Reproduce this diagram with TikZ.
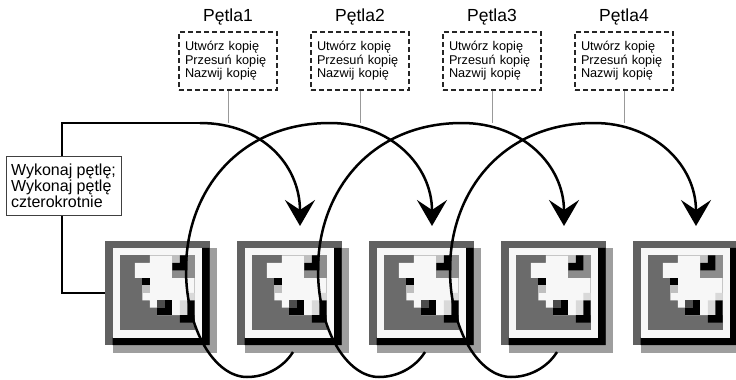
\documentclass[tikz,border=0pt]{standalone}
\usepackage{fontspec}
\setmainfont{Liberation Sans}
\usetikzlibrary{positioning,arrows.meta}
\tikzset{
	looptitle/.style={font=\fontsize{17.5}{21}\selectfont, inner sep=0pt},
	stepsbox/.style={draw=black!85, line width=1.1pt, dash pattern=on 5pt off 3pt,
		minimum width=98pt, minimum height=58pt, text width=86pt, inner xsep=6pt,
		inner ysep=0pt, align=left, font=\fontsize{12.7}{13.4}\selectfont},
	mainbox/.style={draw=black!75, fill=white, line width=.6pt, minimum width=115pt,
		minimum height=59pt, inner xsep=5pt, inner ysep=0pt, align=left,
		font=\fontsize{16}{16}\selectfont},
	iconspot/.style={minimum size=104.6pt, inner sep=0pt},
	loopline/.style={line width=2.5pt},
	looparrow/.style={loopline, -{Stealth[quick, length=26pt, width=30pt, inset=10pt]}},
	feeler/.style={black!40, line width=.9pt},
	loopicon/.pic={
		\fill[black!38] (1,1) rectangle (15,15);
		\fill[black!62] (0,0) rectangle (14,14);
		\fill[black] (1,13) rectangle (14,14) (13,1) rectangle (14,14);
		\fill[black!3] (1,1) rectangle (13,13);
		\fill[black!58] (2,2) rectangle (12,12);
		% white staircase
		\fill[black!3] (6,2) -- (6,3) -- (4,3) -- (4,5) -- (5,5) -- (5,8) -- (6,8) -- (6,9)
			-- (7,9) -- (7,10) -- (12,10) -- (12,2) -- cycle;
		% upper tile
		\fill[black!45] (9,2) rectangle (12,5);
		\fill[black!25] (9,2) rectangle (10,3);
		\fill[black] (9,3) rectangle (11,4) (10,2) rectangle (11,4);
		% small pieces on the stairs
		\fill[black] (5,5) rectangle (6,6);
		\fill[black!25] (5,6) rectangle (6,7);
		\fill[black] (7,8) rectangle (9,10);
		\fill[black!70] (7,8) rectangle (8,9);
		\fill[black!15] (10,8) rectangle (11,10) (11,7) rectangle (12,8);
		\fill[black] (11,8) rectangle (12,11) (10,10) rectangle (12,11);
	}
}

\begin{document}
\begin{tikzpicture}[x=1pt, y=-1pt]
	\useasboundingbox (0,0) rectangle (736,380);

	% icons in a row
	\foreach \i/\ix in {1/157.6, 2/289.6, 3/421.6, 4/553.6, 5/685.6} {
		\node[iconspot] (icon\i) at (\ix,293) {};
		\pic[x=7.47pt, y=-7.47pt] at (icon\i.north west) {loopicon};
	}

	% the four code boxes
	\foreach \i/\bx in {1/228, 2/360, 3/492, 4/624} {
		\node[stepsbox] (steps\i) at (\bx,61) {Utwórz kopię\\Przesuń kopię\\Nazwij kopię};
		\node[looptitle, above=6.5pt of steps\i] (title\i) {Pętla\i};
		\coordinate (touch\i) at (\bx,123);
		\draw[feeler] (steps\i) -- (touch\i);
	}

	% main line and first arrow
	\coordinate (upper) at (62,123);
	\coordinate (lower) at (62,293);
	\coordinate (bend) at (200,123);
	\coordinate (tip1) at (300,226);
	\draw[loopline] (icon1.west) -- (lower) -- (upper) -- (bend);
	\draw[looparrow] (bend) .. controls +(62,0) and +(0,-61) .. (tip1);
	\node[mainbox] (main) at (63.5,185.5) {Wykonaj pętlę;\\Wykonaj pętlę\\czterokrotnie};

	% loops from copy to copy
	\foreach \i/\k in {2/0, 3/132, 4/264} {
		\coordinate (start\i) at (293+\k,352);
		\coordinate (tip\i) at (432+\k,226);
		\draw[looparrow] (start\i) .. controls +(-10,16) and +(18,0) .. ++(-46,25)
			.. controls +(-32,0) and +(0,60) .. ++(-61,-107)
			.. controls +(0,-80) and +(-90,0) .. ++(144,-147)
			.. controls +(60,0) and +(0,-61) .. (tip\i);
	}
\end{tikzpicture}
\end{document}
